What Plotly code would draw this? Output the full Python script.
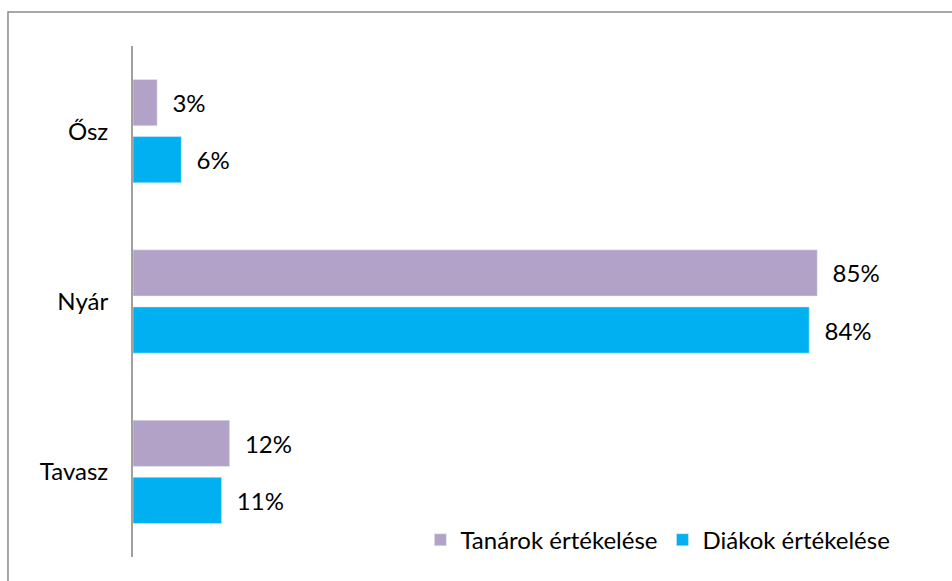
import plotly.graph_objects as go

categories = ["Tavasz", "Nyár", "Ősz"]
tanarok = [12, 85, 3]
diakok = [11, 84, 6]
series_names = ["Tanárok értékelése", "Diákok értékelése"]
colors = ["#b3a2c7", "#00b0f0"]

FONT = "Lato, Open Sans, sans-serif"
FS = 24

fig = go.Figure()
fig.add_trace(go.Bar(
    y=categories, x=diakok, name=series_names[1], orientation="h",
    marker=dict(color=colors[1]),
    text=[f"{v}%" for v in diakok], textposition="outside",
    texttemplate="  %{text}",
    textfont=dict(family=FONT, size=FS, color="#000"),
    cliponaxis=False,
))
fig.add_trace(go.Bar(
    y=categories, x=tanarok, name=series_names[0], orientation="h",
    marker=dict(color=colors[0]),
    text=[f"{v}%" for v in tanarok], textposition="outside",
    texttemplate="  %{text}",
    textfont=dict(family=FONT, size=FS, color="#000"),
    cliponaxis=False,
))

fig.update_layout(
    width=952, height=581,
    margin=dict(l=133, r=14, t=46, b=24, autoexpand=False),
    paper_bgcolor="white", plot_bgcolor="white",
    barmode="group", bargap=0.33, bargroupgap=0.19,
    font=dict(family=FONT, size=FS, color="#000"),
    showlegend=True,
    legend=dict(orientation="h", traceorder="reversed",
                x=0.357, xanchor="left", y=0.033, yanchor="middle",
                font=dict(family=FONT, size=FS, color="#000"),
                bgcolor="rgba(0,0,0,0)", itemwidth=30),
    xaxis=dict(range=[0, 100], showgrid=False, zeroline=False,
               showticklabels=False, showline=False, ticks="",
               automargin=False),
    yaxis=dict(categoryorder="array", categoryarray=categories,
               range=[-0.5, 2.5], showgrid=False, zeroline=False,
               showline=True, linecolor="#a0a0a0", linewidth=2,
               ticks="", ticklabelstandoff=18, automargin=False,
               tickfont=dict(family=FONT, size=FS, color="#000")),
    shapes=[dict(type="rect", xref="paper", yref="paper",
                 x0=-0.1553, x1=1.03, y0=-0.07, y1=1.0665,
                 line=dict(color="#8c8c8c", width=1.5),
                 fillcolor="rgba(0,0,0,0)", layer="below")],
)

fig.write_html("out.html", config={"displayModeBar": False},
               post_script="document.body.style.margin='0';document.body.style.padding='0';")
